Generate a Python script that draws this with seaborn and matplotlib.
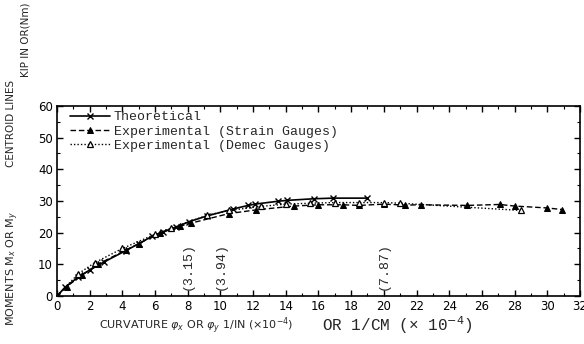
import matplotlib
matplotlib.use("Agg")
import matplotlib.pyplot as plt
import seaborn as sns
from matplotlib.ticker import MultipleLocator

theo_x = [0, 0.5, 1.3, 2.0, 2.9, 4.2, 5.0, 5.8, 6.5, 7.3, 8.1, 9.2, 10.8, 11.7, 12.1, 13.5, 14.1, 15.7, 16.9, 19.0]
theo_y = [0, 2.8, 6.0, 8.2, 10.8, 14.3, 16.5, 18.8, 20.2, 21.8, 23.5, 25.3, 27.5, 28.6, 29.0, 29.9, 30.2, 30.7, 30.9, 30.9]

strain_x = [0, 0.6, 1.5, 2.5, 4.2, 5.0, 6.3, 7.5, 8.2, 10.5, 12.2, 14.5, 16.0, 17.5, 18.5, 20.0, 21.3, 22.3, 25.1, 27.1, 28.0, 30.0, 30.9]
strain_y = [0, 3.0, 6.5, 10.0, 14.5, 16.5, 20.0, 22.0, 23.0, 26.0, 27.2, 28.4, 28.8, 28.8, 28.6, 29.0, 28.7, 28.8, 28.6, 28.9, 28.4, 27.8, 27.3]

demec_x = [0, 1.3, 2.3, 4.0, 6.0, 7.0, 9.2, 10.5, 12.5, 14.0, 15.5, 17.0, 18.5, 20.0, 21.0, 28.4]
demec_y = [0, 7.0, 10.5, 15.0, 19.5, 21.5, 25.5, 27.0, 28.3, 29.0, 29.3, 29.5, 29.5, 29.5, 29.3, 27.0]

x_ticks = list(range(0, 33, 2))
y_ticks = list(range(0, 61, 10))

labels = ["Theoretical", "Experimental (Strain Gauges)", "Experimental (Demec Gauges)"]
annot_x = [8, 10, 20]
annot_text = ["(3.15)", "(3.94)", "(7.87)"]

sns.set_style("ticks")
plt.rcParams['font.family'] = ['DejaVu Sans']

fig = plt.figure(figsize=(5.84, 3.44), dpi=100)
ax = fig.add_axes([0.0976, 0.1395, 0.8954, 0.5525])

mono = "Liberation Mono"

sns.lineplot(x=theo_x, y=theo_y, ax=ax, color="black", linestyle="-", linewidth=1.2,
             marker="x", markersize=5, markeredgewidth=1.0, markeredgecolor="black",
             sort=False, label=labels[0])
sns.lineplot(x=strain_x, y=strain_y, ax=ax, color="black", linestyle=(0, (4, 2)), linewidth=1.0,
             marker="^", markersize=4.5, markerfacecolor="black", markeredgecolor="black",
             sort=False, label=labels[1])
sns.lineplot(x=demec_x, y=demec_y, ax=ax, color="black", linestyle=(0, (1, 1.5)), linewidth=1.0,
             marker="^", markersize=4.5, markerfacecolor="white", markeredgecolor="black",
             markeredgewidth=0.9, sort=False, label=labels[2])

ax.set_xlim(0, 32)
ax.set_ylim(0, 60)
ax.set_xticks(x_ticks)
ax.set_yticks(y_ticks)
ax.xaxis.set_minor_locator(MultipleLocator(1))
ax.yaxis.set_minor_locator(MultipleLocator(5))
ax.tick_params(which="both", direction="in", top=True, right=True, colors="black",
               labelsize=8.5, pad=3)
ax.tick_params(which="major", length=4, width=1)
ax.tick_params(which="minor", length=2.5, width=0.8)
for s in ax.spines.values():
    s.set_color("black")
    s.set_linewidth(1.2)

leg = ax.legend(loc="upper left", frameon=False, prop={"family": mono, "size": 9.5},
                handlelength=3.0, handletextpad=0.3, labelspacing=0.15,
                borderaxespad=0.0, bbox_to_anchor=(0.015, 1.0))

for xv, t in zip(annot_x, annot_text):
    ax.text(xv, 1.8, t, rotation=90, ha="center", va="bottom", family=mono, fontsize=9.5)

fig.text(0.17, 0.055, "CURVATURE $\\varphi_x$ OR $\\varphi_y$ 1/IN (×10$^{-4}$)", fontsize=8,
         ha="left", va="center")
fig.text(0.552, 0.055, "OR 1/CM (× 10$^{-4}$)", fontsize=11.5, family=mono, ha="left", va="center")

fig.text(0.022, 0.22, "MOMENTS M$_x$ OR M$_y$", rotation=90, fontsize=8, ha="center", va="center")
fig.text(0.018, 0.64, "CENTROID LINES", rotation=90, fontsize=7.5, ha="center", va="center")
fig.text(0.043, 0.885, "KIP IN OR(Nm)", rotation=90, fontsize=7.5, ha="center", va="center")

fig.savefig("out.png", dpi=100, facecolor="white")
